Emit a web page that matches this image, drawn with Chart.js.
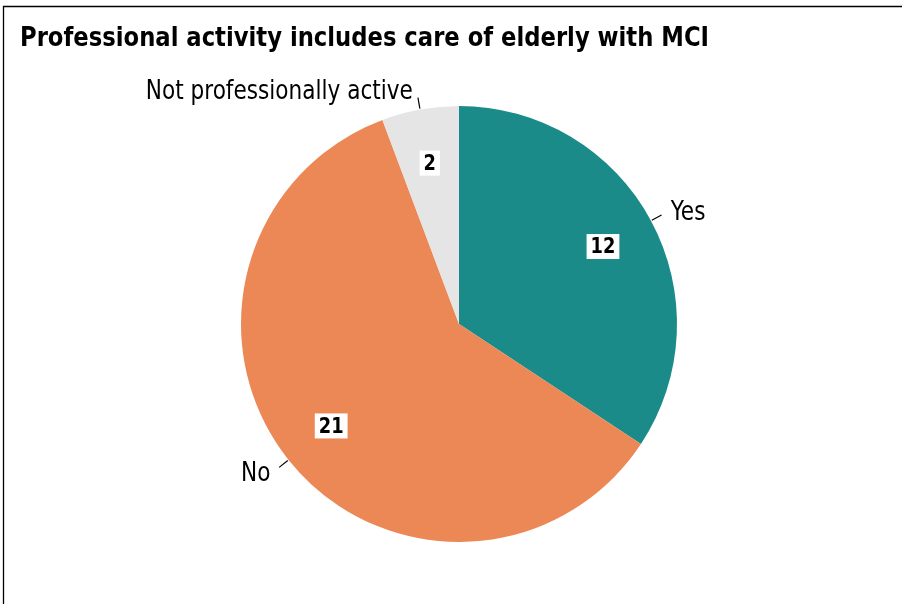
<!DOCTYPE html>
<html>
<head>
<meta charset="utf-8">
<script src="https://cdn.jsdelivr.net/npm/chart.js@4.4.1/dist/chart.umd.min.js"></script>
<style>
  html, body { margin: 0; padding: 0; background: #fff; }
  #wrap { width: 902px; height: 604px; position: relative; }
</style>
</head>
<body>
<div id="wrap"><canvas id="pieChart" width="902" height="604"></canvas></div>
<script>
const chartTitle = "Professional activity includes care of elderly with MCI";
const labels = ["Yes", "No", "Not professionally active"];
const counts = [12, 21, 2];
const colors = ["#1b8b89", "#ec8855", "#e5e5e5"];

const FONT = '"Liberation Sans Narrow", "Arial Narrow", "DejaVu Sans Condensed", sans-serif';

// narrow text: squeeze horizontally around the anchor point
function narrowText(ctx, text, x, y, align, sx) {
  ctx.save();
  ctx.translate(x, y);
  ctx.scale(sx, 1);
  ctx.textAlign = align;
  ctx.fillText(text, 0, 0);
  ctx.restore();
}

// frame, title, leader lines, category labels and value boxes
const decorations = {
  id: "decorations",
  afterDraw(chart) {
    const ctx = chart.ctx;
    ctx.save();

    // frame (top and left edge only)
    ctx.strokeStyle = "#000";
    ctx.lineWidth = 1.3;
    ctx.beginPath();
    ctx.moveTo(3.5, 604);
    ctx.lineTo(3.5, 6.5);
    ctx.lineTo(902, 6.5);
    ctx.stroke();

    // title
    ctx.fillStyle = "#000";
    ctx.font = "bold 27px " + FONT;
    ctx.textBaseline = "alphabetic";
    const w = ctx.measureText(chartTitle).width;
    narrowText(ctx, chartTitle, 20, 46, "left", 689 / w);

    const meta = chart.getDatasetMeta(0);
    meta.data.forEach((arc, i) => {
      const p = arc.getProps(["x", "y", "startAngle", "endAngle", "outerRadius"], true);
      const mid = (p.startAngle + p.endAngle) / 2;
      const ux = Math.cos(mid), uy = Math.sin(mid);

      // leader line
      const r0 = p.outerRadius + 1, r1 = p.outerRadius + 12;
      const ex = p.x + ux * r1, ey = p.y + uy * r1;
      ctx.strokeStyle = "#000";
      ctx.lineWidth = 1.2;
      ctx.beginPath();
      ctx.moveTo(p.x + ux * r0, p.y + uy * r0);
      ctx.lineTo(ex, ey);
      ctx.stroke();

      // category label
      ctx.font = "27px " + FONT;
      ctx.fillStyle = "#000";
      ctx.textBaseline = "middle";
      const off = 4 + 6 * Math.abs(ux);
      const ty = ey + uy * 8 + 2;
      if (ux >= 0) {
        narrowText(ctx, labels[i], ex + off, ty, "left", 0.89);
      } else {
        narrowText(ctx, labels[i], ex - off, ty, "right", 0.89);
      }

      // value box
      const rl = p.outerRadius * 0.75;
      const lx = p.x + ux * rl, ly = p.y + uy * rl;
      ctx.font = "bold 22px " + FONT;
      const txt = String(counts[i]);
      const tw = ctx.measureText(txt).width * 0.9;
      const bw = tw + 8, bh = 25;
      ctx.fillStyle = "#fff";
      ctx.fillRect(lx - bw / 2, ly - bh / 2, bw, bh);
      ctx.fillStyle = "#000";
      narrowText(ctx, txt, lx, ly + 1, "center", 0.9);
    });

    ctx.restore();
  }
};

new Chart(document.getElementById("pieChart").getContext("2d"), {
  type: "pie",
  data: {
    labels: labels,
    datasets: [
      {
        data: counts,
        backgroundColor: colors,
        borderWidth: 0,
      },
    ],
  },
  options: {
    responsive: false,
    animation: false,
    layout: {
      padding: { top: 106, bottom: 62, left: 241, right: 225 },
    },
    plugins: {
      legend: { display: false },
      tooltip: { enabled: false },
    },
  },
  plugins: [decorations],
});
</script>
</body>
</html>
